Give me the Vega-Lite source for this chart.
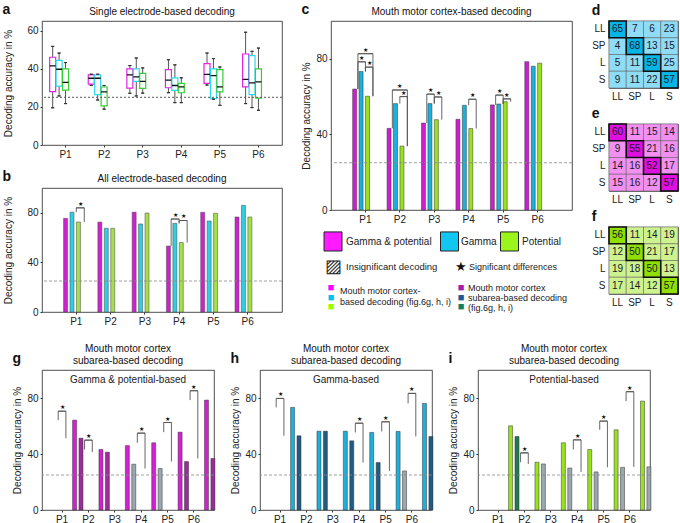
{
"$schema":"https://vega.github.io/schema/vega-lite/v6.json",
"padding":2,
"background":"white",
"config":{
 "font":"Liberation Sans",
 "view":{"stroke":"#222","strokeWidth":0.8},
 "axis":{"domain":false,"grid":false,"labelFontSize":10,"titleFontSize":10,"titleFontWeight":"normal","labelColor":"#222","titleColor":"#222","tickColor":"#333","tickSize":2,"labelPadding":2,"labelOverlap":false},
 "title":{"fontSize":14,"fontWeight":"bold","anchor":"start","color":"#111"}
},
"datasets":{
 "boxes":[
  {"p":"P1","s":"Gamma & potential","lo":19.5,"q1":28,"med":41.5,"q3":46,"hi":51.7},
  {"p":"P1","s":"Gamma","lo":25.7,"q1":30.9,"med":39.7,"q3":44.4,"hi":48.2},
  {"p":"P1","s":"Potential","lo":21.7,"q1":28.8,"med":32.8,"q3":39.9,"hi":43.2},
  {"p":"P2","s":"Gamma & potential","lo":31.2,"q1":31.9,"med":35,"q3":36.8,"hi":37.1},
  {"p":"P2","s":"Gamma","lo":23.6,"q1":26.4,"med":35,"q3":36.8,"hi":37.1},
  {"p":"P2","s":"Potential","lo":18.8,"q1":20.5,"med":27.8,"q3":30.4,"hi":31.2},
  {"p":"P3","s":"Gamma & potential","lo":27.1,"q1":29.8,"med":36.8,"q3":39.9,"hi":41.6},
  {"p":"P3","s":"Gamma","lo":25.7,"q1":33.3,"med":35.7,"q3":39.9,"hi":45.6},
  {"p":"P3","s":"Potential","lo":27.2,"q1":29.7,"med":33.3,"q3":37.5,"hi":40.4},
  {"p":"P4","s":"Gamma & potential","lo":27.4,"q1":30,"med":34,"q3":39.5,"hi":44.7},
  {"p":"P4","s":"Gamma","lo":22.2,"q1":28.6,"med":31.2,"q3":35.2,"hi":42},
  {"p":"P4","s":"Potential","lo":22.2,"q1":27.4,"med":30.5,"q3":32.3,"hi":35.2},
  {"p":"P5","s":"Gamma & potential","lo":31.4,"q1":32.3,"med":37,"q3":42.7,"hi":48.2},
  {"p":"P5","s":"Gamma","lo":24,"q1":24.3,"med":36.4,"q3":39.9,"hi":45.3},
  {"p":"P5","s":"Potential","lo":20.8,"q1":27.8,"med":30.5,"q3":39.5,"hi":40.9},
  {"p":"P6","s":"Gamma & potential","lo":21.7,"q1":30.5,"med":34.4,"q3":47.7,"hi":59.1},
  {"p":"P6","s":"Gamma","lo":19.6,"q1":26.4,"med":32.6,"q3":46.8,"hi":49.1},
  {"p":"P6","s":"Potential","lo":18.2,"q1":24.6,"med":33.1,"q3":39.9,"hi":50.8}
 ],
 "bars":[
  {"panel":"b","p":"P1","s":"Gamma & potential","v":75.5},{"panel":"b","p":"P1","s":"Gamma","v":80.5},{"panel":"b","p":"P1","s":"Potential","v":72.6},
  {"panel":"b","p":"P2","s":"Gamma & potential","v":72.5},{"panel":"b","p":"P2","s":"Gamma","v":67.5},{"panel":"b","p":"P2","s":"Potential","v":67.5},
  {"panel":"b","p":"P3","s":"Gamma & potential","v":80.5},{"panel":"b","p":"P3","s":"Gamma","v":71},{"panel":"b","p":"P3","s":"Potential","v":79.8},
  {"panel":"b","p":"P4","s":"Gamma & potential","v":53.2},{"panel":"b","p":"P4","s":"Gamma","v":71.5},{"panel":"b","p":"P4","s":"Potential","v":56},
  {"panel":"b","p":"P5","s":"Gamma & potential","v":80.4},{"panel":"b","p":"P5","s":"Gamma","v":73.4},{"panel":"b","p":"P5","s":"Potential","v":79.6},
  {"panel":"b","p":"P6","s":"Gamma & potential","v":76.6},{"panel":"b","p":"P6","s":"Gamma","v":86},{"panel":"b","p":"P6","s":"Potential","v":76.6},
  {"panel":"c","p":"P1","s":"Gamma & potential","v":64},{"panel":"c","p":"P1","s":"Gamma","v":73.3},{"panel":"c","p":"P1","s":"Potential","v":60.2},
  {"panel":"c","p":"P2","s":"Gamma & potential","v":43.2},{"panel":"c","p":"P2","s":"Gamma","v":56.3},{"panel":"c","p":"P2","s":"Potential","v":33.8},
  {"panel":"c","p":"P3","s":"Gamma & potential","v":46},{"panel":"c","p":"P3","s":"Gamma","v":56.3},{"panel":"c","p":"P3","s":"Potential","v":47.8},
  {"panel":"c","p":"P4","s":"Gamma & potential","v":48},{"panel":"c","p":"P4","s":"Gamma","v":55.4},{"panel":"c","p":"P4","s":"Potential","v":43.1},
  {"panel":"c","p":"P5","s":"Gamma & potential","v":55.6},{"panel":"c","p":"P5","s":"Gamma","v":56.1},{"panel":"c","p":"P5","s":"Potential","v":57.3},
  {"panel":"c","p":"P6","s":"Gamma & potential","v":78.5},{"panel":"c","p":"P6","s":"Gamma","v":76.1},{"panel":"c","p":"P6","s":"Potential","v":77.7}
 ],
 "brk":[
  {"panel":"b","p":"P1","a":"Gamma","b":"Potential","mid":"G|P","ya":80.5,"yb":72.6,"lvl":84},
  {"panel":"b","p":"P4","a":"Gamma & potential","b":"Gamma","mid":"GP|G","ya":53.2,"yb":71.5,"lvl":75},
  {"panel":"b","p":"P4","a":"Gamma","b":"Potential","mid":"G|P","ya":71.5,"yb":56,"lvl":73.8},
  {"panel":"c","p":"P1","a":"Gamma & potential","b":"Gamma","mid":"GP|G","ya":64,"yb":73.3,"lvl":78.4},
  {"panel":"c","p":"P1","a":"Gamma","b":"Potential","mid":"G|P","ya":73.3,"yb":60.2,"lvl":75.6},
  {"panel":"c","p":"P1","a":"Gamma & potential","b":"Potential","mid":"Gamma","ya":64,"yb":60.2,"lvl":82.7},
  {"panel":"c","p":"P2","a":"Gamma & potential","b":"Potential","mid":"Gamma","ya":43.2,"yb":33.8,"lvl":63.5},
  {"panel":"c","p":"P2","a":"Gamma","b":"Potential","mid":"G|P","ya":56.3,"yb":33.8,"lvl":60},
  {"panel":"c","p":"P3","a":"Gamma & potential","b":"Gamma","mid":"GP|G","ya":46,"yb":56.3,"lvl":61.3},
  {"panel":"c","p":"P3","a":"Gamma","b":"Potential","mid":"G|P","ya":56.3,"yb":47.8,"lvl":59.8},
  {"panel":"c","p":"P4","a":"Gamma","b":"Potential","mid":"G|P","ya":55.4,"yb":43.1,"lvl":58.6},
  {"panel":"c","p":"P5","a":"Gamma & potential","b":"Gamma","mid":"GP|G","ya":55.6,"yb":56.1,"lvl":60.8},
  {"panel":"c","p":"P5","a":"Gamma","b":"Potential","mid":"G|P","ya":56.1,"yb":57.3,"lvl":58.8}
 ],
 "sub":[
  {"panel":"g","p":"P1","src":"cortex","v":64.2,"sig":true},{"panel":"g","p":"P1","src":"subarea","v":51.3,"sig":true},
  {"panel":"g","p":"P2","src":"cortex","v":43.2,"sig":true},{"panel":"g","p":"P2","src":"subarea","v":41.3,"sig":true},
  {"panel":"g","p":"P3","src":"cortex","v":46,"sig":true},{"panel":"g","p":"P3","src":"subarea","v":32.7,"sig":false},
  {"panel":"g","p":"P4","src":"cortex","v":48,"sig":true},{"panel":"g","p":"P4","src":"subarea","v":29.6,"sig":false},
  {"panel":"g","p":"P5","src":"cortex","v":55.6,"sig":true},{"panel":"g","p":"P5","src":"subarea","v":34.6,"sig":true},
  {"panel":"g","p":"P6","src":"cortex","v":78.5,"sig":true},{"panel":"g","p":"P6","src":"subarea","v":36.8,"sig":true},
  {"panel":"h","p":"P1","src":"cortex","v":73.3,"sig":true},{"panel":"h","p":"P1","src":"subarea","v":53,"sig":true},
  {"panel":"h","p":"P2","src":"cortex","v":56.3,"sig":true},{"panel":"h","p":"P2","src":"subarea","v":56.3,"sig":true},
  {"panel":"h","p":"P3","src":"cortex","v":56.3,"sig":true},{"panel":"h","p":"P3","src":"subarea","v":49.4,"sig":true},
  {"panel":"h","p":"P4","src":"cortex","v":55.4,"sig":true},{"panel":"h","p":"P4","src":"subarea","v":33.9,"sig":true},
  {"panel":"h","p":"P5","src":"cortex","v":56.1,"sig":true},{"panel":"h","p":"P5","src":"subarea","v":27.9,"sig":false},
  {"panel":"h","p":"P6","src":"cortex","v":76.1,"sig":true},{"panel":"h","p":"P6","src":"subarea","v":52.5,"sig":true},
  {"panel":"i","p":"P1","src":"cortex","v":60.1,"sig":true},{"panel":"i","p":"P1","src":"subarea","v":52.5,"sig":true},
  {"panel":"i","p":"P2","src":"cortex","v":34.1,"sig":true},{"panel":"i","p":"P2","src":"subarea","v":32.9,"sig":false},
  {"panel":"i","p":"P3","src":"cortex","v":48,"sig":true},{"panel":"i","p":"P3","src":"subarea","v":30,"sig":false},
  {"panel":"i","p":"P4","src":"cortex","v":43.2,"sig":true},{"panel":"i","p":"P4","src":"subarea","v":27.2,"sig":false},
  {"panel":"i","p":"P5","src":"cortex","v":57.3,"sig":true},{"panel":"i","p":"P5","src":"subarea","v":30.5,"sig":false},
  {"panel":"i","p":"P6","src":"cortex","v":77.8,"sig":true},{"panel":"i","p":"P6","src":"subarea","v":30.8,"sig":false}
 ],
 "sbrk":[
  {"panel":"g","p":"P1","ya":64.2,"yb":51.3,"lvl":70.6},
  {"panel":"g","p":"P2","ya":43.2,"yb":41.3,"lvl":49.9},
  {"panel":"g","p":"P4","ya":48,"yb":29.6,"lvl":54.9},
  {"panel":"g","p":"P5","ya":55.6,"yb":34.6,"lvl":62.5},
  {"panel":"g","p":"P6","ya":78.5,"yb":36.8,"lvl":85.2},
  {"panel":"h","p":"P1","ya":73.3,"yb":53,"lvl":79.7},
  {"panel":"h","p":"P4","ya":55.4,"yb":33.9,"lvl":62},
  {"panel":"h","p":"P5","ya":56.1,"yb":27.9,"lvl":63},
  {"panel":"h","p":"P6","ya":76.1,"yb":52.5,"lvl":83.3},
  {"panel":"i","p":"P2","ya":34.1,"yb":32.9,"lvl":40.8},
  {"panel":"i","p":"P4","ya":43.2,"yb":27.2,"lvl":50.1},
  {"panel":"i","p":"P5","ya":57.3,"yb":30.5,"lvl":63.5},
  {"panel":"i","p":"P6","ya":77.8,"yb":30.8,"lvl":84.5}
 ],
 "subtitles":[
  {"panel":"g","p":"P3","t":"Gamma & potential-based"},
  {"panel":"h","p":"P3","t":"Gamma-based"},
  {"panel":"i","p":"P3","t":"Potential-based"}
 ],
 "leg":[
  {"k":"gp","p":"P1","t":"Gamma & potential"},
  {"k":"g","p":"P4","t":"Gamma"},
  {"k":"pot","p":"P4","t":"Potential"},
  {"k":"hatch","p":"P1","t":"▨"},
  {"k":"ins","p":"P1","t":"Insignificant decoding"},
  {"k":"star","p":"P4","t":"★"},
  {"k":"sig","p":"P4","t":"Significant differences"},
  {"k":"m1","p":"P1","t":"Mouth motor cortex-"},
  {"k":"m2","p":"P1","t":"based decoding (fig.6g, h, i)"},
  {"k":"s1","p":"P4","t":"Mouth motor cortex"},
  {"k":"s2","p":"P4","t":"subarea-based decoding"},
  {"k":"s3","p":"P4","t":"(fig.6g, h, i)"},
  {"k":"sq","p":"P1","t":"■"},
  {"k":"sq","p":"P4","t":"■"}
 ],
 "hm":[
  {"m":"d","r":"LL","c":"LL","v":65},{"m":"d","r":"LL","c":"SP","v":7},{"m":"d","r":"LL","c":"L","v":6},{"m":"d","r":"LL","c":"S","v":23},
  {"m":"d","r":"SP","c":"LL","v":4},{"m":"d","r":"SP","c":"SP","v":68},{"m":"d","r":"SP","c":"L","v":13},{"m":"d","r":"SP","c":"S","v":15},
  {"m":"d","r":"L","c":"LL","v":5},{"m":"d","r":"L","c":"SP","v":11},{"m":"d","r":"L","c":"L","v":59},{"m":"d","r":"L","c":"S","v":25},
  {"m":"d","r":"S","c":"LL","v":9},{"m":"d","r":"S","c":"SP","v":11},{"m":"d","r":"S","c":"L","v":22},{"m":"d","r":"S","c":"S","v":57},
  {"m":"e","r":"LL","c":"LL","v":60},{"m":"e","r":"LL","c":"SP","v":11},{"m":"e","r":"LL","c":"L","v":15},{"m":"e","r":"LL","c":"S","v":14},
  {"m":"e","r":"SP","c":"LL","v":9},{"m":"e","r":"SP","c":"SP","v":55},{"m":"e","r":"SP","c":"L","v":21},{"m":"e","r":"SP","c":"S","v":16},
  {"m":"e","r":"L","c":"LL","v":14},{"m":"e","r":"L","c":"SP","v":16},{"m":"e","r":"L","c":"L","v":52},{"m":"e","r":"L","c":"S","v":17},
  {"m":"e","r":"S","c":"LL","v":15},{"m":"e","r":"S","c":"SP","v":16},{"m":"e","r":"S","c":"L","v":12},{"m":"e","r":"S","c":"S","v":57},
  {"m":"f","r":"LL","c":"LL","v":56},{"m":"f","r":"LL","c":"SP","v":11},{"m":"f","r":"LL","c":"L","v":14},{"m":"f","r":"LL","c":"S","v":19},
  {"m":"f","r":"SP","c":"LL","v":12},{"m":"f","r":"SP","c":"SP","v":50},{"m":"f","r":"SP","c":"L","v":21},{"m":"f","r":"SP","c":"S","v":17},
  {"m":"f","r":"L","c":"LL","v":19},{"m":"f","r":"L","c":"SP","v":18},{"m":"f","r":"L","c":"L","v":50},{"m":"f","r":"L","c":"S","v":13},
  {"m":"f","r":"S","c":"LL","v":17},{"m":"f","r":"S","c":"SP","v":14},{"m":"f","r":"S","c":"L","v":12},{"m":"f","r":"S","c":"S","v":57}
 ]
},
"spacing":16,
"resolve":{"scale":{"fill":"independent","stroke":"independent","color":"independent"}},
"vconcat":[
 {"hconcat":[
  {"vconcat":[
   {"title":{"text":"a","dy":14},"vconcat":[
      {"width":240,"height":124,
       "title":{"text":"Single electrode-based decoding","anchor":"middle","fontSize":10,"fontWeight":"normal","offset":4},
       "data":{"name":"boxes"},
       "layer":[
        {"mark":{"type":"bar","width":1,"fill":"#555"},
         "encoding":{
          "x":{"field":"p","type":"nominal","scale":{"type":"band","paddingInner":0,"paddingOuter":0.11},"axis":{"title":null,"labelAngle":0}},
          "xOffset":{"field":"s","type":"nominal","scale":{"type":"band","domain":["Gamma & potential","Gamma","Potential"],"paddingInner":0,"paddingOuter":0.5}},
          "y":{"field":"lo","type":"quantitative","scale":{"domain":[0,65]},"axis":{"values":[0,10,20,30,40,50,60],"labelOverlap":false,"title":"Decoding accuracy in %","titlePadding":8,"minExtent":21}},
          "y2":{"field":"hi"}}},
        {"mark":{"type":"bar","width":6,"fill":"white","strokeWidth":1.2},
         "encoding":{
          "x":{"field":"p","type":"nominal"},
          "xOffset":{"field":"s","type":"nominal"},
          "y":{"field":"q1","type":"quantitative"},
          "y2":{"field":"q3"},
          "stroke":{"field":"s","type":"nominal","scale":{"domain":["Gamma & potential","Gamma","Potential"],"range":["#e324e3","#2ad9ef","#33cf33"]},"legend":null}}},
        {"mark":{"type":"bar","width":6,"fill":null,"stroke":"#111","strokeWidth":1.3},
         "encoding":{"x":{"field":"p","type":"nominal"},"xOffset":{"field":"s","type":"nominal"},"y":{"field":"med","type":"quantitative"},"y2":{"field":"med"}}},
        {"mark":{"type":"bar","width":3,"fill":null,"stroke":"#333","strokeWidth":1},
         "encoding":{"x":{"field":"p","type":"nominal"},"xOffset":{"field":"s","type":"nominal"},"y":{"field":"lo","type":"quantitative"},"y2":{"field":"lo"}}},
        {"mark":{"type":"bar","width":3,"fill":null,"stroke":"#333","strokeWidth":1},
         "encoding":{"x":{"field":"p","type":"nominal"},"xOffset":{"field":"s","type":"nominal"},"y":{"field":"hi","type":"quantitative"},"y2":{"field":"hi"}}},
        {"data":{"values":[{}]},"mark":{"type":"rule","strokeDash":[2,2],"color":"#555","strokeWidth":1},
         "encoding":{"y":{"datum":25,"type":"quantitative"}}}
       ]}]},
   {"title":{"text":"b","dy":14},"vconcat":[
      {"width":240,"height":124,
       "title":{"text":"All electrode-based decoding","anchor":"middle","fontSize":10,"fontWeight":"normal","offset":4},
       "layer":[
        {"data":{"name":"bars"},"transform":[{"filter":"datum.panel === 'b'"}],
         "mark":{"type":"bar","width":4,"stroke":"#444","strokeWidth":0.5},
         "encoding":{
          "x":{"field":"p","type":"nominal","scale":{"type":"band","paddingInner":0,"paddingOuter":0.5},"axis":{"title":null,"labelAngle":0}},
          "xOffset":{"field":"s","type":"nominal","scale":{"type":"band","domain":["Gamma & potential","Gamma","Potential"],"paddingInner":0,"paddingOuter":0.64}},
          "y":{"field":"v","type":"quantitative","scale":{"domain":[0,100]},"axis":{"values":[0,20,40,60,80,100],"labelOverlap":false,"title":"Decoding accuracy in %","titlePadding":8,"minExtent":21}},
          "fill":{"field":"s","type":"nominal","scale":{"domain":["Gamma & potential","Gamma","Potential"],"range":["#cf22cf","#2ccfe3","#a3e04a"]},"legend":null}}},
        {"data":{"values":[{}]},"mark":{"type":"rule","strokeDash":[3,2],"color":"#888","strokeWidth":0.8},
         "encoding":{"y":{"datum":25,"type":"quantitative"}}},
        {"data":{"name":"brk"},"transform":[{"filter":"datum.panel === 'b' && datum.a === 'Gamma & potential'"}],
         "mark":{"type":"rule","color":"#555","strokeWidth":0.9,"xOffset":-8},
         "encoding":{"x":{"field":"p","type":"nominal"},"y":{"field":"ya","type":"quantitative"},"y2":{"field":"lvl"}}},
        {"data":{"name":"brk"},"transform":[{"filter":"datum.panel === 'b' && datum.a === 'Gamma'"}],
         "mark":{"type":"rule","color":"#555","strokeWidth":0.9},
         "encoding":{"x":{"field":"p","type":"nominal"},"y":{"field":"ya","type":"quantitative"},"y2":{"field":"lvl"}}},
        {"data":{"name":"brk"},"transform":[{"filter":"datum.panel === 'b' && datum.b === 'Gamma'"}],
         "mark":{"type":"rule","color":"#555","strokeWidth":0.9},
         "encoding":{"x":{"field":"p","type":"nominal"},"y":{"field":"yb","type":"quantitative"},"y2":{"field":"lvl"}}},
        {"data":{"name":"brk"},"transform":[{"filter":"datum.panel === 'b' && datum.b === 'Potential'"}],
         "mark":{"type":"rule","color":"#555","strokeWidth":0.9,"xOffset":8},
         "encoding":{"x":{"field":"p","type":"nominal"},"y":{"field":"yb","type":"quantitative"},"y2":{"field":"lvl"}}},
        {"data":{"name":"brk"},"transform":[{"filter":"datum.panel === 'b' && datum.mid === 'GP|G'"}],
         "mark":{"type":"bar","width":8,"fill":null,"stroke":"#555","strokeWidth":0.9,"xOffset":-4},
         "encoding":{"x":{"field":"p","type":"nominal"},"y":{"field":"lvl","type":"quantitative"},"y2":{"field":"lvl"}}},
        {"data":{"name":"brk"},"transform":[{"filter":"datum.panel === 'b' && datum.mid === 'G|P'"}],
         "mark":{"type":"bar","width":8,"fill":null,"stroke":"#555","strokeWidth":0.9,"xOffset":4},
         "encoding":{"x":{"field":"p","type":"nominal"},"y":{"field":"lvl","type":"quantitative"},"y2":{"field":"lvl"}}},
        {"data":{"name":"brk"},"transform":[{"filter":"datum.panel === 'b' && datum.mid === 'GP|G'"}],
         "mark":{"type":"text","text":"★","fontSize":6,"color":"#111","dx":-4,"dy":-4},
         "encoding":{"x":{"field":"p","type":"nominal"},"y":{"field":"lvl","type":"quantitative"}}},
        {"data":{"name":"brk"},"transform":[{"filter":"datum.panel === 'b' && datum.mid === 'G|P'"}],
         "mark":{"type":"text","text":"★","fontSize":6,"color":"#111","dx":4,"dy":-4},
         "encoding":{"x":{"field":"p","type":"nominal"},"y":{"field":"lvl","type":"quantitative"}}}
       ]}]}
  ],"spacing":9,"resolve":{"scale":{"fill":"independent","stroke":"independent","color":"independent"}}},
  {"title":{"text":"c","dy":14},"vconcat":[
      {"width":241,"height":189,
       "title":{"text":"Mouth motor cortex-based decoding","anchor":"middle","fontSize":10,"fontWeight":"normal","offset":4},
       "layer":[
        {"data":{"name":"bars"},"transform":[{"filter":"datum.panel === 'c'"}],
         "mark":{"type":"bar","width":4,"stroke":"#333","strokeWidth":0.5},
         "encoding":{
          "x":{"field":"p","type":"nominal","scale":{"type":"band","paddingInner":0,"paddingOuter":0.5},"axis":{"title":null,"labelAngle":0}},
          "xOffset":{"field":"s","type":"nominal","scale":{"type":"band","domain":["Gamma & potential","Gamma","Potential"],"paddingInner":0,"paddingOuter":0.8}},
          "y":{"field":"v","type":"quantitative","scale":{"domain":[0,100]},"axis":{"values":[0,20,40,60,80,100],"labelOverlap":false,"title":"Decoding accuracy in %","titlePadding":4}},
          "fill":{"field":"s","type":"nominal","scale":{"domain":["Gamma & potential","Gamma","Potential"],"range":["#d21cd2","#1cb0dc","#98e21e"]},"legend":null}}},
        {"data":{"values":[{}]},"mark":{"type":"rule","strokeDash":[3,2],"color":"#888","strokeWidth":0.8},
         "encoding":{"y":{"datum":25,"type":"quantitative"}}},
        {"data":{"name":"brk"},"transform":[{"filter":"datum.panel === 'c' && datum.a === 'Gamma & potential'"}],
         "mark":{"type":"rule","color":"#555","strokeWidth":0.9,"xOffset":-7.5},
         "encoding":{"x":{"field":"p","type":"nominal"},"y":{"field":"ya","type":"quantitative"},"y2":{"field":"lvl"}}},
        {"data":{"name":"brk"},"transform":[{"filter":"datum.panel === 'c' && datum.a === 'Gamma'"}],
         "mark":{"type":"rule","color":"#555","strokeWidth":0.9},
         "encoding":{"x":{"field":"p","type":"nominal"},"y":{"field":"ya","type":"quantitative"},"y2":{"field":"lvl"}}},
        {"data":{"name":"brk"},"transform":[{"filter":"datum.panel === 'c' && datum.b === 'Gamma'"}],
         "mark":{"type":"rule","color":"#555","strokeWidth":0.9},
         "encoding":{"x":{"field":"p","type":"nominal"},"y":{"field":"yb","type":"quantitative"},"y2":{"field":"lvl"}}},
        {"data":{"name":"brk"},"transform":[{"filter":"datum.panel === 'c' && datum.b === 'Potential'"}],
         "mark":{"type":"rule","color":"#555","strokeWidth":0.9,"xOffset":7.5},
         "encoding":{"x":{"field":"p","type":"nominal"},"y":{"field":"yb","type":"quantitative"},"y2":{"field":"lvl"}}},
        {"data":{"name":"brk"},"transform":[{"filter":"datum.panel === 'c' && datum.mid === 'GP|G'"}],
         "mark":{"type":"bar","width":7.5,"fill":null,"stroke":"#555","strokeWidth":0.9,"xOffset":-3.75},
         "encoding":{"x":{"field":"p","type":"nominal"},"y":{"field":"lvl","type":"quantitative"},"y2":{"field":"lvl"}}},
        {"data":{"name":"brk"},"transform":[{"filter":"datum.panel === 'c' && datum.mid === 'G|P'"}],
         "mark":{"type":"bar","width":7.5,"fill":null,"stroke":"#555","strokeWidth":0.9,"xOffset":3.75},
         "encoding":{"x":{"field":"p","type":"nominal"},"y":{"field":"lvl","type":"quantitative"},"y2":{"field":"lvl"}}},
        {"data":{"name":"brk"},"transform":[{"filter":"datum.panel === 'c' && datum.mid === 'Gamma'"}],
         "mark":{"type":"bar","width":15,"fill":null,"stroke":"#555","strokeWidth":0.9},
         "encoding":{"x":{"field":"p","type":"nominal"},"y":{"field":"lvl","type":"quantitative"},"y2":{"field":"lvl"}}},
        {"data":{"name":"brk"},"transform":[{"filter":"datum.panel === 'c' && datum.mid === 'GP|G'"}],
         "mark":{"type":"text","text":"★","fontSize":6,"color":"#111","dx":-3.75,"dy":-4},
         "encoding":{"x":{"field":"p","type":"nominal"},"y":{"field":"lvl","type":"quantitative"}}},
        {"data":{"name":"brk"},"transform":[{"filter":"datum.panel === 'c' && datum.mid === 'G|P'"}],
         "mark":{"type":"text","text":"★","fontSize":6,"color":"#111","dx":3.75,"dy":-4},
         "encoding":{"x":{"field":"p","type":"nominal"},"y":{"field":"lvl","type":"quantitative"}}},
        {"data":{"name":"brk"},"transform":[{"filter":"datum.panel === 'c' && datum.mid === 'Gamma'"}],
         "mark":{"type":"text","text":"★","fontSize":6,"color":"#111","dy":-4},
         "encoding":{"x":{"field":"p","type":"nominal"},"y":{"field":"lvl","type":"quantitative"}}},
        {"data":{"name":"leg"},"transform":[{"filter":"datum.k === 'gp'"}],
         "mark":{"type":"bar","width":18,"fill":"#ff1aff","stroke":"#222","strokeWidth":1,"xOffset":-32.4},
         "encoding":{"x":{"field":"p","type":"nominal"},"y":{"datum":-11.6,"type":"quantitative","scale":{"domain":[0,100]}},"y2":{"datum":-21.7}}},
        {"data":{"name":"leg"},"transform":[{"filter":"datum.k === 'g'"}],
         "mark":{"type":"bar","width":18,"fill":"#12c6f2","stroke":"#222","strokeWidth":1,"xOffset":-19.2},
         "encoding":{"x":{"field":"p","type":"nominal"},"y":{"datum":-11.6,"type":"quantitative","scale":{"domain":[0,100]}},"y2":{"datum":-21.7}}},
        {"data":{"name":"leg"},"transform":[{"filter":"datum.k === 'pot'"}],
         "mark":{"type":"bar","width":18,"fill":"#9cf51a","stroke":"#222","strokeWidth":1,"xOffset":40.8},
         "encoding":{"x":{"field":"p","type":"nominal"},"y":{"datum":-11.6,"type":"quantitative","scale":{"domain":[0,100]}},"y2":{"datum":-21.7}}},
        {"data":{"name":"leg"},"transform":[{"filter":"datum.k === 'gp'"}],
         "mark":{"type":"text","fontSize":10,"color":"#222","baseline":"middle","align":"left","dx":-19.4},
         "encoding":{"text":{"field":"t"},"x":{"field":"p","type":"nominal"},"y":{"datum":-16.7,"type":"quantitative","scale":{"domain":[0,100]}}}},
        {"data":{"name":"leg"},"transform":[{"filter":"datum.k === 'g'"}],
         "mark":{"type":"text","fontSize":10,"color":"#222","baseline":"middle","align":"left","dx":-7.7},
         "encoding":{"text":{"field":"t"},"x":{"field":"p","type":"nominal"},"y":{"datum":-16.7,"type":"quantitative","scale":{"domain":[0,100]}}}},
        {"data":{"name":"leg"},"transform":[{"filter":"datum.k === 'pot'"}],
         "mark":{"type":"text","fontSize":10,"color":"#222","baseline":"middle","align":"left","dx":53.3},
         "encoding":{"text":{"field":"t"},"x":{"field":"p","type":"nominal"},"y":{"datum":-16.7,"type":"quantitative","scale":{"domain":[0,100]}}}},
        {"data":{"name":"leg"},"transform":[{"filter":"datum.k === 'hatch'"}],
         "mark":{"type":"text","fontSize":18,"color":"#222","baseline":"middle","dx":-32.4},
         "encoding":{"text":{"field":"t"},"x":{"field":"p","type":"nominal"},"y":{"datum":-30.2,"type":"quantitative","scale":{"domain":[0,100]}}}},
        {"data":{"name":"leg"},"transform":[{"filter":"datum.k === 'ins'"}],
         "mark":{"type":"text","fontSize":9.5,"color":"#222","baseline":"middle","align":"left","dx":-19.4},
         "encoding":{"text":{"field":"t"},"x":{"field":"p","type":"nominal"},"y":{"datum":-30.2,"type":"quantitative","scale":{"domain":[0,100]}}}},
        {"data":{"name":"leg"},"transform":[{"filter":"datum.k === 'star'"}],
         "mark":{"type":"text","fontSize":13,"color":"#111","baseline":"middle","dx":-7.7},
         "encoding":{"text":{"field":"t"},"x":{"field":"p","type":"nominal"},"y":{"datum":-30.2,"type":"quantitative","scale":{"domain":[0,100]}}}},
        {"data":{"name":"leg"},"transform":[{"filter":"datum.k === 'sig'"}],
         "mark":{"type":"text","fontSize":9,"color":"#222","baseline":"middle","align":"left","dx":0.3},
         "encoding":{"text":{"field":"t"},"x":{"field":"p","type":"nominal"},"y":{"datum":-30.2,"type":"quantitative","scale":{"domain":[0,100]}}}},
        {"data":{"name":"leg"},"transform":[{"filter":"datum.k === 'm1'"}],
         "mark":{"type":"text","fontSize":9,"color":"#222","baseline":"middle","align":"left","dx":-25.4},
         "encoding":{"text":{"field":"t"},"x":{"field":"p","type":"nominal"},"y":{"datum":-42.9,"type":"quantitative","scale":{"domain":[0,100]}}}},
        {"data":{"name":"leg"},"transform":[{"filter":"datum.k === 'm2'"}],
         "mark":{"type":"text","fontSize":9,"color":"#222","baseline":"middle","align":"left","dx":-25.4},
         "encoding":{"text":{"field":"t"},"x":{"field":"p","type":"nominal"},"y":{"datum":-48.7,"type":"quantitative","scale":{"domain":[0,100]}}}},
        {"data":{"name":"leg"},"transform":[{"filter":"datum.k === 's1'"}],
         "mark":{"type":"text","fontSize":9,"color":"#222","baseline":"middle","align":"left","dx":-0.7},
         "encoding":{"text":{"field":"t"},"x":{"field":"p","type":"nominal"},"y":{"datum":-41.3,"type":"quantitative","scale":{"domain":[0,100]}}}},
        {"data":{"name":"leg"},"transform":[{"filter":"datum.k === 's2'"}],
         "mark":{"type":"text","fontSize":9,"color":"#222","baseline":"middle","align":"left","dx":-0.7},
         "encoding":{"text":{"field":"t"},"x":{"field":"p","type":"nominal"},"y":{"datum":-46.6,"type":"quantitative","scale":{"domain":[0,100]}}}},
        {"data":{"name":"leg"},"transform":[{"filter":"datum.k === 's3'"}],
         "mark":{"type":"text","fontSize":9,"color":"#222","baseline":"middle","align":"left","dx":-0.7},
         "encoding":{"text":{"field":"t"},"x":{"field":"p","type":"nominal"},"y":{"datum":-51.9,"type":"quantitative","scale":{"domain":[0,100]}}}},
        {"data":{"name":"leg"},"transform":[{"filter":"datum.k === 'sq' && datum.p === 'P1'"}],
         "mark":{"type":"text","fontSize":11,"color":"#ff00ff","baseline":"middle","dx":-34.4},
         "encoding":{"text":{"field":"t"},"x":{"field":"p","type":"nominal"},"y":{"datum":-41.5,"type":"quantitative","scale":{"domain":[0,100]}}}},
        {"data":{"name":"leg"},"transform":[{"filter":"datum.k === 'sq' && datum.p === 'P1'"}],
         "mark":{"type":"text","fontSize":11,"color":"#00c3f0","baseline":"middle","dx":-34.4},
         "encoding":{"text":{"field":"t"},"x":{"field":"p","type":"nominal"},"y":{"datum":-46.3,"type":"quantitative","scale":{"domain":[0,100]}}}},
        {"data":{"name":"leg"},"transform":[{"filter":"datum.k === 'sq' && datum.p === 'P1'"}],
         "mark":{"type":"text","fontSize":11,"color":"#99ff00","baseline":"middle","dx":-34.4},
         "encoding":{"text":{"field":"t"},"x":{"field":"p","type":"nominal"},"y":{"datum":-51.1,"type":"quantitative","scale":{"domain":[0,100]}}}},
        {"data":{"name":"leg"},"transform":[{"filter":"datum.k === 'sq' && datum.p === 'P4'"}],
         "mark":{"type":"text","fontSize":11,"color":"#a020a8","baseline":"middle","dx":-7.7},
         "encoding":{"text":{"field":"t"},"x":{"field":"p","type":"nominal"},"y":{"datum":-41.5,"type":"quantitative","scale":{"domain":[0,100]}}}},
        {"data":{"name":"leg"},"transform":[{"filter":"datum.k === 'sq' && datum.p === 'P4'"}],
         "mark":{"type":"text","fontSize":11,"color":"#1a5a96","baseline":"middle","dx":-7.7},
         "encoding":{"text":{"field":"t"},"x":{"field":"p","type":"nominal"},"y":{"datum":-46.3,"type":"quantitative","scale":{"domain":[0,100]}}}},
        {"data":{"name":"leg"},"transform":[{"filter":"datum.k === 'sq' && datum.p === 'P4'"}],
         "mark":{"type":"text","fontSize":11,"color":"#0f8060","baseline":"middle","dx":-7.7},
         "encoding":{"text":{"field":"t"},"x":{"field":"p","type":"nominal"},"y":{"datum":-51.1,"type":"quantitative","scale":{"domain":[0,100]}}}}
       ]}]},
  {"vconcat":[
      {"width":69,"height":67,"title":{"text":"d","offset":2},
       "data":{"name":"hm"},"transform":[{"filter":"datum.m === 'd'"}],
       "encoding":{
        "x":{"field":"c","type":"ordinal","sort":["LL","SP","L","S"],"axis":{"title":null,"ticks":false,"labelAngle":0,"labelPadding":3}},
        "y":{"field":"r","type":"ordinal","sort":["LL","SP","L","S"],"axis":{"title":null,"ticks":false,"labelPadding":4}}},
       "layer":[
        {"mark":{"type":"rect","stroke":"#555","strokeWidth":0.5},"encoding":{"fill":{"field":"v","type":"quantitative","scale":{"type":"threshold","domain":[40],"range":["#8edcf6","#05b5e6"]},"legend":null}}},
        {"transform":[{"filter":"datum.r === datum.c"}],"mark":{"type":"rect","fillOpacity":0,"stroke":"#111","strokeWidth":1.6}},
        {"mark":{"type":"text","fontSize":10,"color":"#1a1a2a"},"encoding":{"text":{"field":"v","type":"quantitative"}}}
       ]},
      {"width":69,"height":67,"title":{"text":"e","offset":2},
       "data":{"name":"hm"},"transform":[{"filter":"datum.m === 'e'"}],
       "encoding":{
        "x":{"field":"c","type":"ordinal","sort":["LL","SP","L","S"],"axis":{"title":null,"ticks":false,"labelAngle":0,"labelPadding":3}},
        "y":{"field":"r","type":"ordinal","sort":["LL","SP","L","S"],"axis":{"title":null,"ticks":false,"labelPadding":4}}},
       "layer":[
        {"mark":{"type":"rect","stroke":"#555","strokeWidth":0.5},"encoding":{"fill":{"field":"v","type":"quantitative","scale":{"type":"threshold","domain":[40],"range":["#f290f2","#e010e0"]},"legend":null}}},
        {"transform":[{"filter":"datum.r === datum.c"}],"mark":{"type":"rect","fillOpacity":0,"stroke":"#111","strokeWidth":1.6}},
        {"mark":{"type":"text","fontSize":10,"color":"#1a1a2a"},"encoding":{"text":{"field":"v","type":"quantitative"}}}
       ]},
      {"width":69,"height":67,"title":{"text":"f","offset":2},
       "data":{"name":"hm"},"transform":[{"filter":"datum.m === 'f'"}],
       "encoding":{
        "x":{"field":"c","type":"ordinal","sort":["LL","SP","L","S"],"axis":{"title":null,"ticks":false,"labelAngle":0,"labelPadding":3}},
        "y":{"field":"r","type":"ordinal","sort":["LL","SP","L","S"],"axis":{"title":null,"ticks":false,"labelPadding":4}}},
       "layer":[
        {"mark":{"type":"rect","stroke":"#555","strokeWidth":0.5},"encoding":{"fill":{"field":"v","type":"quantitative","scale":{"type":"threshold","domain":[40],"range":["#cdf28e","#8fe000"]},"legend":null}}},
        {"transform":[{"filter":"datum.r === datum.c"}],"mark":{"type":"rect","fillOpacity":0,"stroke":"#111","strokeWidth":1.6}},
        {"mark":{"type":"text","fontSize":10,"color":"#1a1a2a"},"encoding":{"text":{"field":"v","type":"quantitative"}}}
       ]}
  ],"spacing":4,"resolve":{"scale":{"fill":"independent","stroke":"independent","color":"independent"}}}
 ],"spacing":18,"resolve":{"scale":{"fill":"independent","stroke":"independent","color":"independent"}}},
 {"hconcat":[
  {"title":{"text":"g","dy":26},"vconcat":[
  {"width":172,"height":140,
   "title":{"text":["Mouth motor cortex","subarea-based decoding"],"anchor":"middle","fontSize":10,"fontWeight":"normal","offset":4},
   "layer":[
    {"data":{"name":"sub"},"transform":[{"filter":"datum.panel === 'g'"}],
     "mark":{"type":"bar","width":4,"stroke":"#333","strokeWidth":0.5},
     "encoding":{
      "x":{"field":"p","type":"nominal","scale":{"type":"band","paddingInner":0,"paddingOuter":0.26},"axis":{"title":null,"labelAngle":0}},
      "xOffset":{"field":"src","type":"nominal","scale":{"type":"band","domain":["cortex","subarea"],"paddingInner":0,"paddingOuter":0.71}},
      "y":{"field":"v","type":"quantitative","scale":{"domain":[0,100]},"axis":{"values":[0,20,40,60,80,100],"labelOverlap":false,"title":"Decoding accuracy in %","titlePadding":4}},
      "fill":{"condition":{"test":"!datum.sig","value":"#9aa8b0"},"field":"src","type":"nominal","scale":{"domain":["cortex","subarea"],"range":["#d51fd5","#9c2c9c"]},"legend":null}}},
    {"data":{"values":[{}]},"mark":{"type":"rule","strokeDash":[3,2],"color":"#888","strokeWidth":0.8},
     "encoding":{"y":{"datum":25,"type":"quantitative"}}},
    {"data":{"name":"sbrk"},"transform":[{"filter":"datum.panel === 'g'"}],
     "mark":{"type":"rule","color":"#555","strokeWidth":0.9,"xOffset":-3.85},
     "encoding":{"x":{"field":"p","type":"nominal"},"y":{"field":"ya","type":"quantitative"},"y2":{"field":"lvl"}}},
    {"data":{"name":"sbrk"},"transform":[{"filter":"datum.panel === 'g'"}],
     "mark":{"type":"rule","color":"#555","strokeWidth":0.9,"xOffset":3.85},
     "encoding":{"x":{"field":"p","type":"nominal"},"y":{"field":"yb","type":"quantitative"},"y2":{"field":"lvl"}}},
    {"data":{"name":"sbrk"},"transform":[{"filter":"datum.panel === 'g'"}],
     "mark":{"type":"bar","width":7.7,"fill":null,"stroke":"#555","strokeWidth":0.9},
     "encoding":{"x":{"field":"p","type":"nominal"},"y":{"field":"lvl","type":"quantitative"},"y2":{"field":"lvl"}}},
    {"data":{"name":"sbrk"},"transform":[{"filter":"datum.panel === 'g'"}],
     "mark":{"type":"text","text":"★","fontSize":6,"color":"#111","dy":-4},
     "encoding":{"x":{"field":"p","type":"nominal"},"y":{"field":"lvl","type":"quantitative"}}},
    {"data":{"name":"subtitles"},"transform":[{"filter":"datum.panel === 'g'"}],
     "mark":{"type":"text","fontSize":10,"color":"#222","baseline":"top","dx":13.2,"dy":5},
     "encoding":{"text":{"field":"t"},"x":{"field":"p","type":"nominal"},"y":{"datum":100,"type":"quantitative","scale":{"domain":[0,100]}}}}
   ]}]},
  {"title":{"text":"h","dy":26},"vconcat":[
  {"width":172,"height":140,
   "title":{"text":["Mouth motor cortex","subarea-based decoding"],"anchor":"middle","fontSize":10,"fontWeight":"normal","offset":4},
   "layer":[
    {"data":{"name":"sub"},"transform":[{"filter":"datum.panel === 'h'"}],
     "mark":{"type":"bar","width":4,"stroke":"#333","strokeWidth":0.5},
     "encoding":{
      "x":{"field":"p","type":"nominal","scale":{"type":"band","paddingInner":0,"paddingOuter":0.26},"axis":{"title":null,"labelAngle":0}},
      "xOffset":{"field":"src","type":"nominal","scale":{"type":"band","domain":["cortex","subarea"],"paddingInner":0,"paddingOuter":0.71}},
      "y":{"field":"v","type":"quantitative","scale":{"domain":[0,100]},"axis":{"values":[0,20,40,60,80,100],"labelOverlap":false,"title":"Decoding accuracy in %","titlePadding":4}},
      "fill":{"condition":{"test":"!datum.sig","value":"#9aa8b0"},"field":"src","type":"nominal","scale":{"domain":["cortex","subarea"],"range":["#1cb0dc","#1f5b82"]},"legend":null}}},
    {"data":{"values":[{}]},"mark":{"type":"rule","strokeDash":[3,2],"color":"#888","strokeWidth":0.8},
     "encoding":{"y":{"datum":25,"type":"quantitative"}}},
    {"data":{"name":"sbrk"},"transform":[{"filter":"datum.panel === 'h'"}],
     "mark":{"type":"rule","color":"#555","strokeWidth":0.9,"xOffset":-3.85},
     "encoding":{"x":{"field":"p","type":"nominal"},"y":{"field":"ya","type":"quantitative"},"y2":{"field":"lvl"}}},
    {"data":{"name":"sbrk"},"transform":[{"filter":"datum.panel === 'h'"}],
     "mark":{"type":"rule","color":"#555","strokeWidth":0.9,"xOffset":3.85},
     "encoding":{"x":{"field":"p","type":"nominal"},"y":{"field":"yb","type":"quantitative"},"y2":{"field":"lvl"}}},
    {"data":{"name":"sbrk"},"transform":[{"filter":"datum.panel === 'h'"}],
     "mark":{"type":"bar","width":7.7,"fill":null,"stroke":"#555","strokeWidth":0.9},
     "encoding":{"x":{"field":"p","type":"nominal"},"y":{"field":"lvl","type":"quantitative"},"y2":{"field":"lvl"}}},
    {"data":{"name":"sbrk"},"transform":[{"filter":"datum.panel === 'h'"}],
     "mark":{"type":"text","text":"★","fontSize":6,"color":"#111","dy":-4},
     "encoding":{"x":{"field":"p","type":"nominal"},"y":{"field":"lvl","type":"quantitative"}}},
    {"data":{"name":"subtitles"},"transform":[{"filter":"datum.panel === 'h'"}],
     "mark":{"type":"text","fontSize":10,"color":"#222","baseline":"top","dx":13.2,"dy":5},
     "encoding":{"text":{"field":"t"},"x":{"field":"p","type":"nominal"},"y":{"datum":100,"type":"quantitative","scale":{"domain":[0,100]}}}}
   ]}]},
  {"title":{"text":"i","dy":26},"vconcat":[
  {"width":172,"height":140,
   "title":{"text":["Mouth motor cortex","subarea-based decoding"],"anchor":"middle","fontSize":10,"fontWeight":"normal","offset":4},
   "layer":[
    {"data":{"name":"sub"},"transform":[{"filter":"datum.panel === 'i'"}],
     "mark":{"type":"bar","width":4,"stroke":"#333","strokeWidth":0.5},
     "encoding":{
      "x":{"field":"p","type":"nominal","scale":{"type":"band","paddingInner":0,"paddingOuter":0.26},"axis":{"title":null,"labelAngle":0}},
      "xOffset":{"field":"src","type":"nominal","scale":{"type":"band","domain":["cortex","subarea"],"paddingInner":0,"paddingOuter":0.71}},
      "y":{"field":"v","type":"quantitative","scale":{"domain":[0,100]},"axis":{"values":[0,20,40,60,80,100],"labelOverlap":false,"title":"Decoding accuracy in %","titlePadding":4}},
      "fill":{"condition":{"test":"!datum.sig","value":"#9aa8b0"},"field":"src","type":"nominal","scale":{"domain":["cortex","subarea"],"range":["#98e21e","#1f7a55"]},"legend":null}}},
    {"data":{"values":[{}]},"mark":{"type":"rule","strokeDash":[3,2],"color":"#888","strokeWidth":0.8},
     "encoding":{"y":{"datum":25,"type":"quantitative"}}},
    {"data":{"name":"sbrk"},"transform":[{"filter":"datum.panel === 'i'"}],
     "mark":{"type":"rule","color":"#555","strokeWidth":0.9,"xOffset":-3.85},
     "encoding":{"x":{"field":"p","type":"nominal"},"y":{"field":"ya","type":"quantitative"},"y2":{"field":"lvl"}}},
    {"data":{"name":"sbrk"},"transform":[{"filter":"datum.panel === 'i'"}],
     "mark":{"type":"rule","color":"#555","strokeWidth":0.9,"xOffset":3.85},
     "encoding":{"x":{"field":"p","type":"nominal"},"y":{"field":"yb","type":"quantitative"},"y2":{"field":"lvl"}}},
    {"data":{"name":"sbrk"},"transform":[{"filter":"datum.panel === 'i'"}],
     "mark":{"type":"bar","width":7.7,"fill":null,"stroke":"#555","strokeWidth":0.9},
     "encoding":{"x":{"field":"p","type":"nominal"},"y":{"field":"lvl","type":"quantitative"},"y2":{"field":"lvl"}}},
    {"data":{"name":"sbrk"},"transform":[{"filter":"datum.panel === 'i'"}],
     "mark":{"type":"text","text":"★","fontSize":6,"color":"#111","dy":-4},
     "encoding":{"x":{"field":"p","type":"nominal"},"y":{"field":"lvl","type":"quantitative"}}},
    {"data":{"name":"subtitles"},"transform":[{"filter":"datum.panel === 'i'"}],
     "mark":{"type":"text","fontSize":10,"color":"#222","baseline":"top","dx":13.2,"dy":5},
     "encoding":{"text":{"field":"t"},"x":{"field":"p","type":"nominal"},"y":{"datum":100,"type":"quantitative","scale":{"domain":[0,100]}}}}
   ]}]}
 ],"spacing":14,"resolve":{"scale":{"fill":"independent","stroke":"independent","color":"independent"}}}
]
}
